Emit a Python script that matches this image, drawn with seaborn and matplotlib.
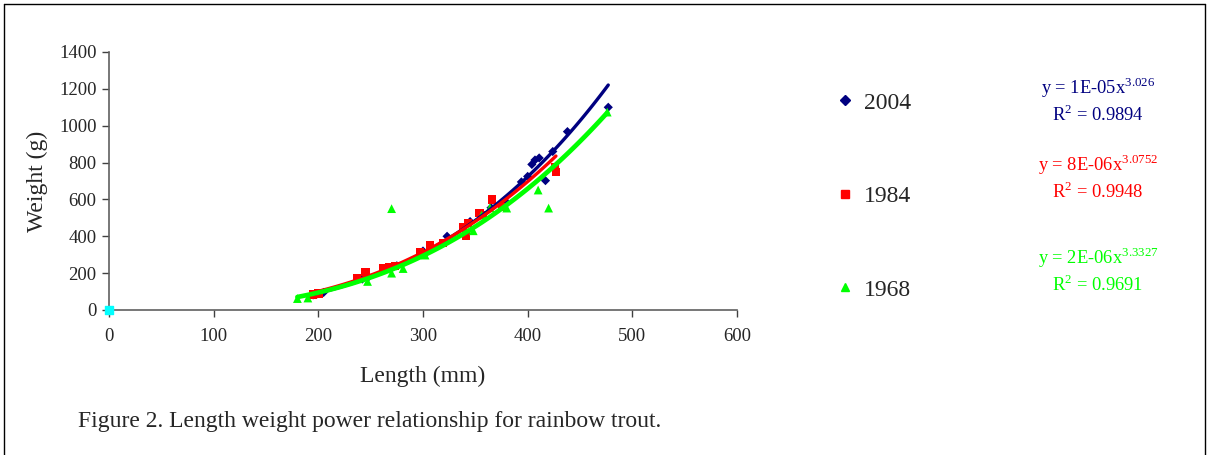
#------------------import library---------------------
import numpy as np
import pandas as pd
import matplotlib
matplotlib.use("Agg")
import matplotlib.pyplot as plt
from matplotlib.lines import Line2D
import seaborn as sns

#------------------data-----------
years = ["2004", "1984", "1968"]

len_2004 = [195, 199, 205, 242, 248, 275, 300, 323, 345, 365, 378, 394, 400, 404, 407, 411, 417, 424, 438, 477]
wt_2004 = [82, 88, 95, 168, 180, 240, 320, 400, 480, 555, 595, 695, 725, 790, 814, 825, 702, 860, 968, 1100]

len_1984 = [195, 200, 237, 245, 262, 268, 273, 297, 307, 319, 338, 341, 343, 354, 357, 366, 376, 426, 427]
wt_1984 = [85, 90, 174, 206, 225, 233, 240, 315, 353, 363, 450, 405, 472, 526, 515, 600, 560, 776, 750]

len_1968 = [180, 190, 247, 270, 270, 281, 302, 348, 356, 364, 380, 410, 420, 476]
wt_1968 = [62, 65, 155, 550, 200, 225, 298, 430, 515, 555, 553, 651, 553, 1074]

# stray point at the origin
origin_len = [0]
origin_wt = [0]

equations = {
    "2004": ("y = 1E-05x", "3.026", "0.9894"),
    "1984": ("y = 8E-06x", "3.0752", "0.9948"),
    "1968": ("y = 2E-06x", "3.3327", "0.9691"),
}

colors = {"2004": "#000080", "1984": "#FF0000", "1968": "#00FF00"}
markers = {"2004": "D", "1984": "s", "1968": "^"}
msize = {"2004": 22, "1984": 36, "1968": 40}
lwidth = {"2004": 2.4, "1984": 2.4, "1968": 3.4}


def main():
    df = pd.concat([
        pd.DataFrame({"Length": len_2004, "Weight": wt_2004, "Year": "2004"}),
        pd.DataFrame({"Length": len_1984, "Weight": wt_1984, "Year": "1984"}),
        pd.DataFrame({"Length": len_1968, "Weight": wt_1968, "Year": "1968"}),
    ], ignore_index=True)

    sns.set_style("ticks")
    plt.rcParams["font.family"] = ["Liberation Serif", "DejaVu Serif"]
    plt.rcParams["mathtext.fontset"] = "custom"
    plt.rcParams["mathtext.rm"] = "Liberation Serif"

    fig = plt.figure(figsize=(12.08, 4.55), dpi=100)
    ax = fig.add_axes([109 / 1208, 1 - 310 / 455, 628 / 1208, 258 / 455])

    # points
    for yr in years:
        sub = df[df["Year"] == yr]
        sns.scatterplot(data=sub, x="Length", y="Weight", ax=ax,
                        color=colors[yr], marker=markers[yr], s=msize[yr],
                        edgecolor="none", linewidth=0, zorder=2, legend=False)
    ax.scatter(origin_len, origin_wt, color="#00FFFF", marker="s", s=40,
               zorder=3, clip_on=False)

    # power trendlines (log-log least squares, like Excel)
    for yr in ["2004", "1984", "1968"]:
        sub = df[df["Year"] == yr]
        b, loga = np.polyfit(np.log(sub["Length"]), np.log(sub["Weight"]), 1)
        xs = np.linspace(sub["Length"].min(), sub["Length"].max(), 100)
        ax.plot(xs, np.exp(loga) * xs ** b, color=colors[yr],
                lw=lwidth[yr], zorder=4, solid_capstyle="round")

    ax.set_xlim(0, 600)
    ax.set_ylim(0, 1400)
    ax.set_xticks(range(0, 601, 100))
    ax.set_yticks(range(0, 1401, 200))
    ax.tick_params(labelsize=13.5, length=5, width=1, color="#404040")
    ax.tick_params(axis="x", pad=8)
    ax.tick_params(axis="y", pad=4)
    sns.despine(ax=ax)
    for sp in ["left", "bottom"]:
        ax.spines[sp].set_color("#606060")
        ax.spines[sp].set_linewidth(1.2)
    ax.set_xlabel("Length (mm)", fontsize=17, labelpad=15)
    ax.set_ylabel("Weight (g)", fontsize=17, labelpad=8)

    # legend on the right
    handles = [Line2D([], [], linestyle="none", marker=markers[yr], color=colors[yr],
                      markersize=6 if yr != "2004" else 5) for yr in years]
    fig.legend(handles, years, loc="upper left", bbox_to_anchor=(838 / 1208, 1 - 92 / 455),
               frameon=False, fontsize=17, labelspacing=3.05, handlelength=0.6,
               handletextpad=0.5, borderpad=0, borderaxespad=0)

    # trendline equations
    eq_y = {"2004": 88, "1984": 165, "1968": 258}
    for yr in years:
        pre, ex, r2 = equations[yr]
        y0 = 1 - eq_y[yr] / 455
        fig.text(1098 / 1208, y0, pre + r"$^{\mathrm{" + ex + "}}$", color=colors[yr],
                 fontsize=13.3, ha="center", va="center")
        fig.text(1098 / 1208, y0 - 27 / 455, r"R$^{\mathrm{2}}$ = " + r2, color=colors[yr],
                 fontsize=13.3, ha="center", va="center")

    fig.text(78 / 1208, 1 - 421 / 455, "Figure 2. Length weight power relationship for rainbow trout.",
             fontsize=17, ha="left", va="center")

    # frame around the whole picture
    for xs_, ys_ in [([4, 4], [4, 460]), ([4, 1205], [4, 4]), ([1205, 1205], [4, 460])]:
        fig.add_artist(Line2D([x / 1208 for x in xs_], [1 - y / 455 for y in ys_],
                              color="black", lw=1.0))

    fig.savefig("out.png", dpi=100)


if __name__ == '__main__':
    main()
